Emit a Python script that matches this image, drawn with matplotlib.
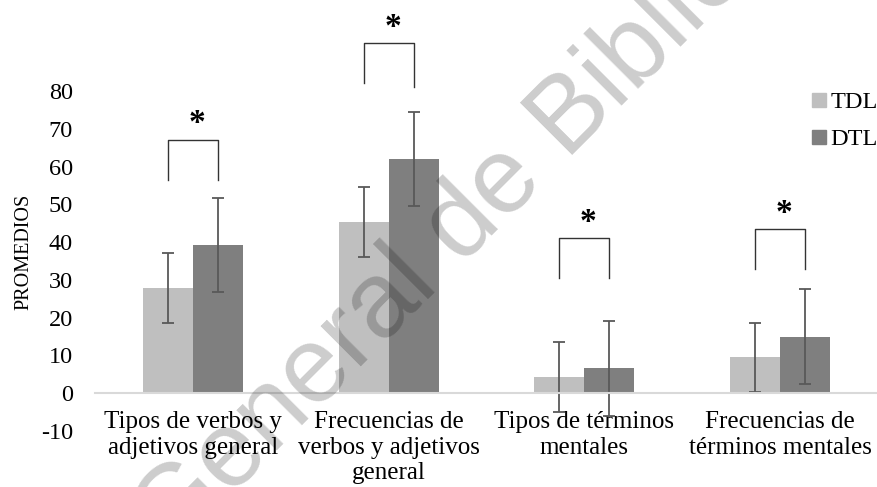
import numpy as np
import matplotlib
matplotlib.use("Agg")
import matplotlib.pyplot as plt
from matplotlib.lines import Line2D

# data
categories = ["Tipos de verbos y\nadjetivos general",
              "Frecuencias de\nverbos y adjetivos\ngeneral",
              "Tipos de términos\nmentales",
              "Frecuencias de\ntérminos mentales"]
tdl = [27.8, 45.3, 4.3, 9.5]
tdl_sd = [9.2, 9.3, 9.3, 9.2]
dtl = [39.2, 62.0, 6.6, 15.0]
dtl_sd = [12.5, 12.5, 12.5, 12.5]
# significance brackets: (leg bottom left, leg bottom right, top, star y)
brackets = [(56.4, 56.4, 67.0, 71.5),
            (82.0, 81.0, 92.6, 96.8),
            (30.4, 30.4, 41.0, 45.1),
            (32.8, 32.8, 43.4, 47.7)]

plt.rcParams['font.family'] = ['Liberation Serif', 'DejaVu Serif']
plt.rcParams['axes.unicode_minus'] = False

fig = plt.figure(figsize=(8.78, 4.87), dpi=100)
ax = fig.add_axes([95/878, (487-431)/487, 1 - 95/878, (431-91)/487])

x = np.arange(len(categories))
w = 0.255
err_kw = dict(ecolor='#595959', elinewidth=1.3, capsize=4.5, capthick=1.3)
ax.bar(x - w/2, tdl, w, yerr=tdl_sd, color='#bfbfbf', error_kw=err_kw, label='TDL')
ax.bar(x + w/2, dtl, w, yerr=dtl_sd, color='#7f7f7f', error_kw=err_kw, label='DTL')

for i, (bl, br, top, sy) in enumerate(brackets):
    ax.plot([x[i] - w/2, x[i] - w/2, x[i] + w/2, x[i] + w/2], [bl, top, top, br],
            color='#333333', lw=1.0, clip_on=False)
    ax.text(x[i] + 0.02, sy, '*', ha='center', va='center', fontsize=24,
            fontweight='bold', clip_on=False)

ax.set_xlim(-0.5, 3.5)
ax.set_ylim(-10, 80)
ax.set_yticks(range(-10, 81, 10))
ax.set_xticks(x)
ax.set_xticklabels(categories, linespacing=1.18)
ax.tick_params(axis='y', length=0, pad=16, labelsize=17.5)
ax.tick_params(axis='x', length=0, pad=13, labelsize=18)
for s in ['top', 'right', 'left']:
    ax.spines[s].set_visible(False)
ax.spines['bottom'].set_position(('data', 0))
ax.spines['bottom'].set_color('#d9d9d9')
ax.spines['bottom'].set_linewidth(1.5)
ax.set_ylabel('PROMEDIOS', fontsize=14.5)
ax.yaxis.set_label_coords(-62/783, 0.5 + 9/340)

handles = [Line2D([], [], ls='none', marker='s', ms=10, color='#bfbfbf'),
           Line2D([], [], ls='none', marker='s', ms=10, color='#7f7f7f')]
ax.legend(handles, ['TDL', 'DTL'], loc='upper left',
          bbox_to_anchor=(812/878, 1 - 91/487), bbox_transform=fig.transFigure,
          frameon=False, fontsize=17.5, handlelength=0.55, handletextpad=0.2,
          labelspacing=0.62, borderpad=0, borderaxespad=0)

# watermark
fig.text(171/878, 1 - 556/487, 'General de Biblio', fontsize=77,
         family='Liberation Sans', color='black', alpha=0.2, rotation=45,
         rotation_mode='anchor', ha='left', va='baseline')

fig.savefig('out.png', dpi=100)
